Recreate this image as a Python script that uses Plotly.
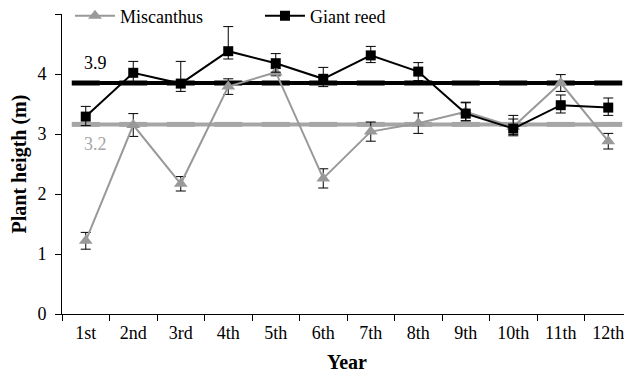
import plotly.graph_objects as go

years = ["1st", "2nd", "3rd", "4th", "5th", "6th", "7th", "8th", "9th", "10th", "11th", "12th"]

miscanthus = [1.22, 3.15, 2.17, 3.79, 4.03, 2.26, 3.04, 3.18, 3.37, 3.12, 3.85, 2.88]
miscanthus_err = [0.14, 0.19, 0.12, 0.13, 0.06, 0.16, 0.16, 0.17, 0.15, 0.13, 0.14, 0.13]

giant_reed = [3.29, 4.02, 3.84, 4.38, 4.18, 3.92, 4.31, 4.04, 3.34, 3.09, 3.48, 3.44]
giant_err_plus = [0.17, 0.19, 0.37, 0.41, 0.16, 0.19, 0.15, 0.15, 0.19, 0.22, 0.17, 0.16]
giant_err_minus = [0.15, 0.17, 0.13, 0.13, 0.15, 0.13, 0.12, 0.15, 0.12, 0.12, 0.13, 0.13]

mean_giant = 3.85
mean_misc = 3.16
mean_giant_label = "3.9"
mean_misc_label = "3.2"

BLACK = "#000000"
GRAY = "#999999"
LIGHTGRAY = "#a6a6a6"
FONT = "Liberation Serif, Times New Roman, serif"

fig = go.Figure()

# mean lines
fig.add_trace(go.Scatter(
    x=years, y=[mean_misc] * len(years), mode="lines+markers",
    line=dict(color=LIGHTGRAY, width=4),
    marker=dict(symbol="line-ew", size=20, line=dict(color=LIGHTGRAY, width=5)),
    showlegend=False, hoverinfo="skip"))
fig.add_trace(go.Scatter(
    x=years, y=[mean_giant] * len(years), mode="lines+markers",
    line=dict(color=BLACK, width=4),
    marker=dict(symbol="line-ew", size=20, line=dict(color=BLACK, width=5)),
    showlegend=False, hoverinfo="skip"))

fig.add_trace(go.Scatter(
    x=years, y=miscanthus, mode="lines+markers", name="Miscanthus",
    line=dict(color=GRAY, width=2),
    marker=dict(symbol="triangle-up", size=12, color=GRAY),
    error_y=dict(type="data", array=miscanthus_err, color=BLACK, thickness=1, width=5)))

fig.add_trace(go.Scatter(
    x=years, y=giant_reed, mode="lines+markers", name="Giant reed",
    line=dict(color=BLACK, width=2),
    marker=dict(symbol="square", size=10, color=BLACK),
    error_y=dict(type="data", symmetric=False, array=giant_err_plus,
                 arrayminus=giant_err_minus, color=BLACK, thickness=1, width=5)))

fig.add_annotation(x=0.058, xref="paper", xanchor="center", y=4.19, yref="y",
                   text=mean_giant_label, showarrow=False,
                   font=dict(family=FONT, size=18, color=BLACK))
fig.add_annotation(x=0.058, xref="paper", xanchor="center", y=2.84, yref="y",
                   text=mean_misc_label, showarrow=False,
                   font=dict(family=FONT, size=18, color=LIGHTGRAY))

# the page body has an 8px margin, so the figure is offset by 8px
fig.update_layout(
    width=624, height=368,
    margin=dict(l=54, r=0, t=6, b=62, autoexpand=False),
    paper_bgcolor="white", plot_bgcolor="white",
    font=dict(family=FONT, size=18, color=BLACK),
    showlegend=True,
    legend=dict(orientation="h", x=0.014, xanchor="left", y=0.993, yanchor="middle",
                bgcolor="rgba(0,0,0,0)", font=dict(family=FONT, size=18),
                itemwidth=40, entrywidth=135, entrywidthmode="pixels",
                traceorder="normal"),
    xaxis=dict(type="category", tickson="boundaries", ticks="outside", ticklen=6,
               tickcolor=BLACK, showline=True, linecolor=BLACK, linewidth=1,
               showgrid=False, zeroline=False, range=[-0.5, 11.5], automargin=False,
               tickfont=dict(family=FONT, size=18), ticklabelstandoff=2,
               title=dict(text="<b>Year</b>", font=dict(family=FONT, size=20), standoff=13)),
    yaxis=dict(range=[0, 5], dtick=1, ticks="outside", ticklen=6, tickcolor=BLACK,
               showline=True, linecolor=BLACK, linewidth=1, showgrid=False,
               zeroline=False, tickfont=dict(family=FONT, size=18), automargin=False,
               ticklabelstandoff=5,
               title=dict(text="<b>Plant heigth (m)</b>", font=dict(family=FONT, size=20),
                          standoff=8)),
)

fig.write_html("out.html")
